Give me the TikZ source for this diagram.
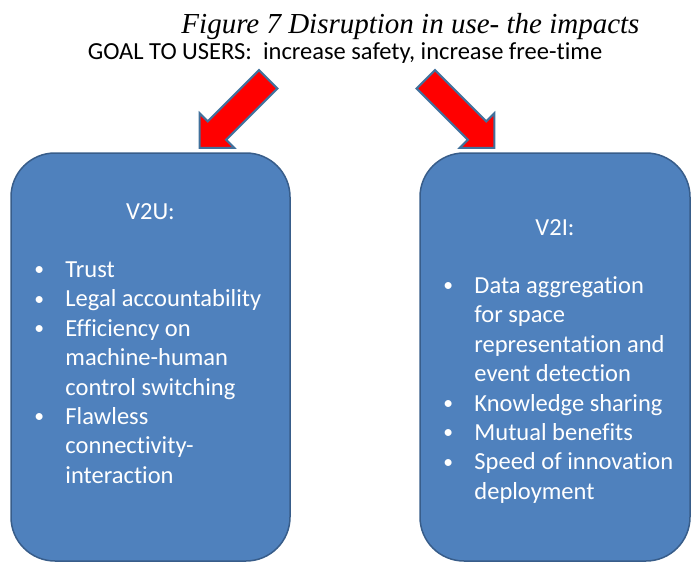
\documentclass[tikz,border=0pt]{standalone}
\usepackage{fontspec}
\setmainfont[Ligatures=NoCommon]{Carlito}
\newfontfamily\captionfont{Liberation Serif}
\usetikzlibrary{positioning,shapes.arrows}
\definecolor{boxblue}{HTML}{4F81BD}
\definecolor{boxline}{HTML}{385D8A}
\definecolor{arrowline}{HTML}{41719C}
\newcommand{\bitem}[1]{\makebox[31pt][l]{\raisebox{1.5pt}{\scalebox{0.8}{\textbullet}}}#1}
\newcommand{\bcont}[1]{\hspace*{31pt}#1}

\begin{document}
\begin{tikzpicture}[x=1pt, y=-1pt,
  panel/.style={rectangle, rounded corners=44pt, fill=boxblue, draw=boxline, line width=1.5pt, minimum height=408pt, inner sep=0pt},
  heading/.style={text=white, font=\fontsize{24.5}{29.4}\selectfont, inner sep=0pt},
  points/.style={text=white, font=\fontsize{24.5}{29.4}\selectfont, align=left, inner sep=0pt},
  bigarrow/.style={single arrow, fill=red, draw=arrowline, line width=2pt, minimum height=97pt, inner xsep=0pt, inner ysep=12pt, single arrow head extend=11.5pt}
]
\useasboundingbox (0,0) rectangle (691,562);
\node[font=\captionfont\itshape\fontsize{29}{34}\selectfont, anchor=base, inner sep=0pt] (caption) at (410.5,33) {Figure 7 Disruption in use- the impacts};
\node[font=\fontsize{24.5}{29}\selectfont, anchor=base, inner sep=0pt] (goal) at (345,59) {GOAL TO USERS:\ \ increase safety, increase free-time};
\node[panel, minimum width=279pt] (v2u) at (150.5,357) {};
\node[panel, minimum width=270pt] (v2i) at (555,357) {};
\node[heading, below=67pt of v2u.north, anchor=base] (v2uhead) {V2U:};
\node[heading, below=83pt of v2i.north, anchor=base] (v2ihead) {V2I:};
\node[points, below right=104.4pt and 24pt of v2u.north west, anchor=north west] (v2ulist) {\strut\bitem{Trust}\\ \bitem{Legal accountability}\\ \bitem{Efficiency on}\\ \bcont{machine-human}\\ \bcont{control switching}\\ \bitem{Flawless}\\ \bcont{connectivity-}\\ \bcont{interaction}};
\node[points, below right=120.4pt and 24pt of v2i.north west, anchor=north west] (v2ilist) {\strut\bitem{Data aggregation}\\ \bcont{for space}\\ \bcont{representation and}\\ \bcont{event detection}\\ \bitem{Knowledge sharing}\\ \bitem{Mutual benefits}\\ \bitem{Speed of innovation}\\ \bcont{deployment}};
\node[bigarrow, rotate=225] (arrowv2u) at (238.5,109) {};
\node[bigarrow, rotate=-45] (arrowv2i) at (455.5,109) {};
\end{tikzpicture}
\end{document}
